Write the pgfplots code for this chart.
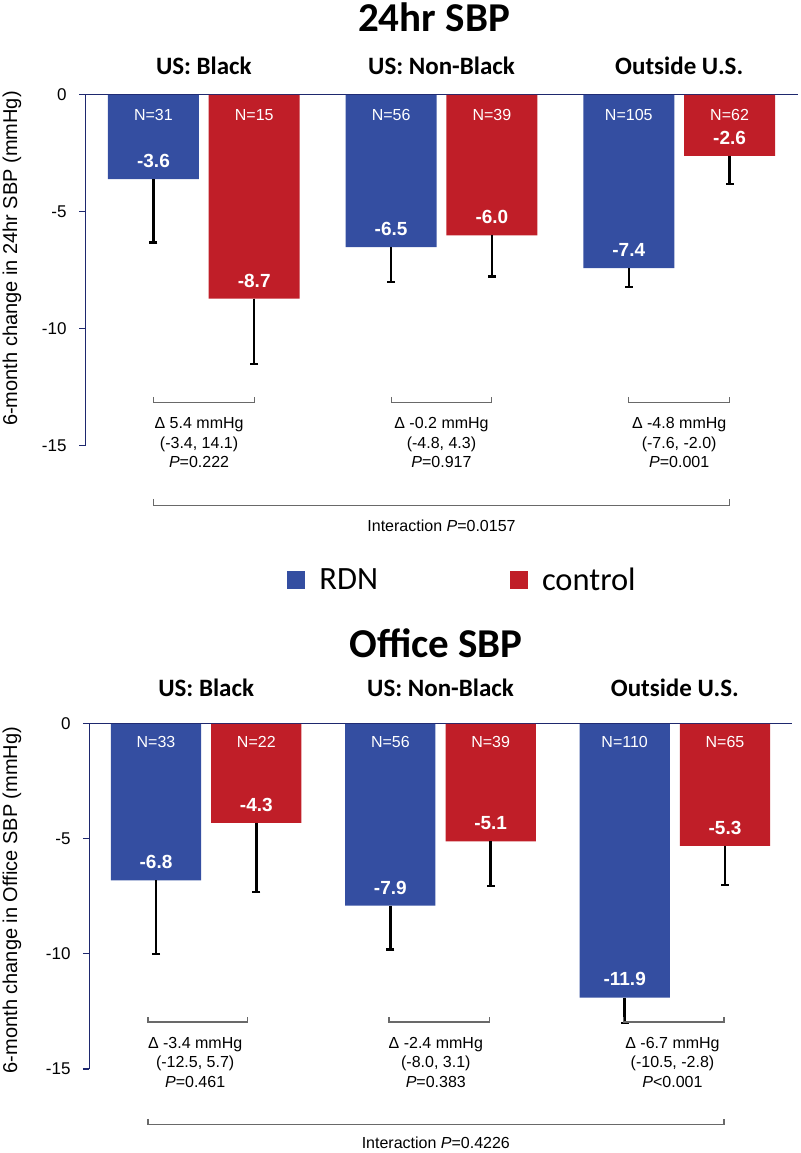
\documentclass[border=0pt]{standalone}
\usepackage{fontspec}
\setmainfont{Liberation Sans}
\newfontfamily\carlito{Carlito}
\usepackage{pgfplots}
\usepackage{pgfplotstable}
\pgfplotsset{compat=1.18}
\definecolor{rdn}{RGB}{52,78,161}
\definecolor{ctl}{RGB}{192,30,40}
\definecolor{axc}{RGB}{30,40,110}
\definecolor{brk}{RGB}{105,105,105}

% panel 1: 24hr SBP  (x = group position -/+ 0.212)
\pgfplotstableread{
x y e
-0.212 -3.6 2.7
0.788 -6.5 1.5
1.788 -7.4 0.8
}\rdnA
\pgfplotstableread{
x y e
0.212 -8.7 2.8
1.212 -6.0 1.75
2.212 -2.6 1.2
}\ctlA
% panel 2: Office SBP
\pgfplotstableread{
x y e
-0.214 -6.8 3.2
0.786 -7.9 1.9
1.786 -11.9 1.1
}\rdnB
\pgfplotstableread{
x y e
0.214 -4.3 3.0
1.214 -5.1 1.95
2.214 -5.3 1.7
}\ctlB

\pgfplotsset{
  bpstyle/.style={
    scale only axis, xmin=-0.5, xmax=2.5, ymin=-15, ymax=0,
    axis x line*=top, axis y line*=left,
    axis line style={axc, line width=1pt},
    xtick=\empty, ytick={-15,-10,-5,0}, yticklabels={-15,-10,-5,0},
    tick align=outside, major tick length=6pt,
    tick style={axc, line width=1pt},
    yticklabel style={font=\fontsize{17}{20}\selectfont, xshift=-9pt},
    clip=false,
    ybar, bar shift=0pt,
    error bars/y dir=minus, error bars/y explicit,
    error bars/error bar style={black, line width=2.5pt},
    error bars/error mark options={black, line width=2.5pt, mark size=4pt, rotate=90},
  },
}
\tikzset{
  nlab/.style={white, font=\fontsize{16}{19}\selectfont},
  vlab/.style={white, font=\fontsize{19}{22}\selectfont\bfseries},
  sub/.style={anchor=base, font=\carlito\fontsize{25}{30}\selectfont\bfseries},
  tit/.style={anchor=base, font=\carlito\fontsize{41}{48}\selectfont\bfseries},
  brtxt/.style={align=center, font=\fontsize{16}{19.5}\selectfont},
  br/.style={brk, line width=1.2pt},
}

\begin{document}
\begin{tikzpicture}
\path[use as bounding box] (0pt,0pt) rectangle (800pt,1153pt);

% ---------------- Panel 1 ----------------
\begin{axis}[bpstyle, at={(85pt,707pt)}, anchor=south west, width=713pt, height=351pt, bar width=0.383,
  legend style={at={(0.5295,-0.382)}, anchor=center, draw=none, fill=none, legend columns=2,
    font=\carlito\fontsize{32.5}{38}\selectfont,
    /tikz/every even column/.append style={column sep=130pt}},
  ]
\addplot[fill=rdn, draw=none, legend image code/.code={\fill[rdn] (0pt,-9pt) rectangle (18pt,9pt); \path (30pt,0pt);}] table[x=x, y=y, y error=e]{\rdnA};
\addlegendentry{RDN}
\addplot[fill=ctl, draw=none, legend image code/.code={\fill[ctl] (0pt,-9pt) rectangle (18pt,9pt); \path (30pt,0pt);}] table[x=x, y=y, y error=e]{\ctlA};
\addlegendentry{control}

\node[nlab, yshift=-20pt] at (axis cs:-0.212,0) {N=31};
\node[nlab, yshift=-20pt] at (axis cs:0.212,0) {N=15};
\node[nlab, yshift=-20pt] at (axis cs:0.788,0) {N=56};
\node[nlab, yshift=-20pt] at (axis cs:1.212,0) {N=39};
\node[nlab, yshift=-20pt] at (axis cs:1.788,0) {N=105};
\node[nlab, yshift=-20pt] at (axis cs:2.212,0) {N=62};

\node[vlab, yshift=18pt] at (axis cs:-0.212,-3.6) {-3.6};
\node[vlab, yshift=18pt] at (axis cs:0.212,-8.7) {-8.7};
\node[vlab, yshift=18pt] at (axis cs:0.788,-6.5) {-6.5};
\node[vlab, yshift=18pt] at (axis cs:1.212,-6.0) {-6.0};
\node[vlab, yshift=18pt] at (axis cs:1.788,-7.4) {-7.4};
\node[vlab, yshift=18pt] at (axis cs:2.212,-2.6) {-2.6};

\node[sub] at (axis cs:0,0) [yshift=20pt] {US: Black};
\node[sub] at (axis cs:1,0) [yshift=20pt] {US: Non-Black};
\node[sub] at (axis cs:2,0) [yshift=20pt] {Outside U.S.};

\draw[br] (axis cs:-0.212,-12.9) -- (axis cs:-0.212,-13.15) -- (axis cs:0.212,-13.15) -- (axis cs:0.212,-12.9);
\draw[br] (axis cs:0.788,-12.9) -- (axis cs:0.788,-13.15) -- (axis cs:1.212,-13.15) -- (axis cs:1.212,-12.9);
\draw[br] (axis cs:1.788,-12.9) -- (axis cs:1.788,-13.15) -- (axis cs:2.212,-13.15) -- (axis cs:2.212,-12.9);
\draw[br] (axis cs:-0.212,-17.26) -- (axis cs:-0.212,-17.56) -- (axis cs:2.212,-17.56) -- (axis cs:2.212,-17.26);

\node[brtxt] at (axis cs:-0.02,-14.87) {Δ 5.4 mmHg\\(-3.4, 14.1)\\\textit{P}=0.222};
\node[brtxt] at (axis cs:1.0,-14.87) {Δ -0.2 mmHg\\(-4.8, 4.3)\\\textit{P}=0.917};
\node[brtxt] at (axis cs:2.0,-14.87) {Δ -4.8 mmHg\\(-7.6, -2.0)\\\textit{P}=0.001};
\node[brtxt] at (axis cs:1.0,-18.4) {Interaction \textit{P}=0.0157};
\end{axis}

\node[tit] at (434pt,1121pt) {24hr SBP};
\node[rotate=90, font=\fontsize{20}{24}\selectfont] at (12pt,894.5pt) {6-month change in 24hr SBP (mmHg)};

% ---------------- Panel 2 ----------------
\begin{axis}[bpstyle, at={(89pt,84pt)}, anchor=south west, width=703pt, height=345pt, bar width=0.385]
\addplot[fill=rdn, draw=none] table[x=x, y=y, y error=e]{\rdnB};
\addplot[fill=ctl, draw=none] table[x=x, y=y, y error=e]{\ctlB};

\node[nlab, yshift=-18pt] at (axis cs:-0.214,0) {N=33};
\node[nlab, yshift=-18pt] at (axis cs:0.214,0) {N=22};
\node[nlab, yshift=-18pt] at (axis cs:0.786,0) {N=56};
\node[nlab, yshift=-18pt] at (axis cs:1.214,0) {N=39};
\node[nlab, yshift=-18pt] at (axis cs:1.786,0) {N=110};
\node[nlab, yshift=-18pt] at (axis cs:2.214,0) {N=65};

\node[vlab, yshift=18pt] at (axis cs:-0.214,-6.8) {-6.8};
\node[vlab, yshift=18pt] at (axis cs:0.214,-4.3) {-4.3};
\node[vlab, yshift=18pt] at (axis cs:0.786,-7.9) {-7.9};
\node[vlab, yshift=18pt] at (axis cs:1.214,-5.1) {-5.1};
\node[vlab, yshift=19pt] at (axis cs:1.786,-11.9) {-11.9};
\node[vlab, yshift=18pt] at (axis cs:2.214,-5.3) {-5.3};

\node[sub] at (axis cs:0,0) [yshift=27pt] {US: Black};
\node[sub] at (axis cs:1,0) [yshift=27pt] {US: Non-Black};
\node[sub] at (axis cs:2,0) [yshift=27pt] {Outside U.S.};

\draw[br] (axis cs:-0.248,-12.74) -- (axis cs:-0.248,-12.96) -- (axis cs:0.175,-12.96) -- (axis cs:0.175,-12.74);
\draw[br] (axis cs:0.78,-12.74) -- (axis cs:0.78,-12.96) -- (axis cs:1.208,-12.96) -- (axis cs:1.208,-12.74);
\draw[br] (axis cs:1.78,-12.74) -- (axis cs:1.78,-12.96) -- (axis cs:2.21,-12.96) -- (axis cs:2.21,-12.74);
\draw[br] (axis cs:-0.248,-17.17) -- (axis cs:-0.248,-17.43) -- (axis cs:2.21,-17.43) -- (axis cs:2.21,-17.17);

\node[brtxt] at (axis cs:-0.047,-14.70) {Δ -3.4 mmHg\\(-12.5, 5.7)\\\textit{P}=0.461};
\node[brtxt] at (axis cs:0.98,-14.70) {Δ -2.4 mmHg\\(-8.0, 3.1)\\\textit{P}=0.383};
\node[brtxt] at (axis cs:1.99,-14.70) {Δ -6.7 mmHg\\(-10.5, -2.8)\\\textit{P}<0.001};
\node[brtxt] at (axis cs:0.98,-18.2) {Interaction \textit{P}=0.4226};
\end{axis}

\node[tit] at (436pt,495pt) {Office SBP};
\node[rotate=90, font=\fontsize{20}{24}\selectfont] at (12pt,253pt) {6-month change in Office SBP (mmHg)};
\end{tikzpicture}
\end{document}
